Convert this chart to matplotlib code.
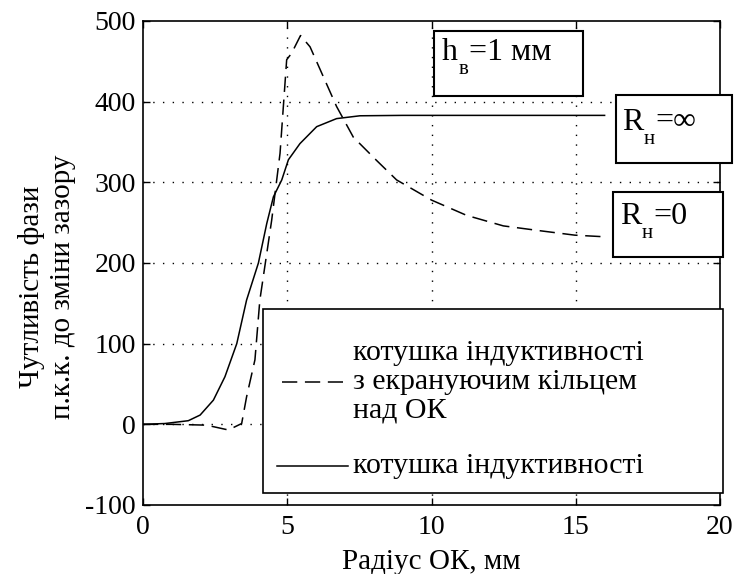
import numpy as np
import matplotlib
matplotlib.use("Agg")
import matplotlib.pyplot as plt
from matplotlib.patches import Rectangle
from matplotlib.lines import Line2D

plt.rcParams['font.family'] = ['Liberation Serif', 'DejaVu Serif']
plt.rcParams['axes.unicode_minus'] = False

# котушка індуктивності (суцільна лінія)
r_coil = [0, 0.76, 1.57, 1.98, 2.44, 2.84, 3.25, 3.59, 4.0, 4.29, 4.52, 4.81,
          5.04, 5.44, 6.02, 6.71, 7.52, 9.0, 12.0, 16.0]
s_coil = [0, 1, 4.5, 11.5, 30, 59, 100, 154, 200, 249, 282, 303,
          328, 348, 369, 379, 382.5, 383, 383, 383]

# котушка з екрануючим кільцем (штрихова лінія)
r_ring = [0, 1.0, 2.2, 2.96, 3.42, 3.59, 3.88, 4.05, 4.46, 4.75, 4.98, 5.15,
          5.46, 5.79, 6.25, 6.71, 7.29, 8.1, 8.79, 10.0, 11.22, 12.49, 13.76,
          14.97, 16.0]
s_ring = [0, 0, -1, -7, 1, 34, 80, 154, 253, 336, 452, 460,
          482, 468, 431, 394, 356, 327, 303, 278, 259, 246, 240,
          234.5, 232.5]

x_ticks = [0, 5, 10, 15, 20]
y_ticks = [-100, 0, 100, 200, 300, 400, 500]

W, H = 734, 574
fig = plt.figure(figsize=(W / 100, H / 100), dpi=100)
L, R, T, B = 143, 720, 21, 505
ax = fig.add_axes([L / W, 1 - B / H, (R - L) / W, (B - T) / H])


def fx(px):
    return (px - L) / (R - L)


def fy(py):
    return (B - py) / (B - T)


dash = (0, (10, 5))
ax.plot(r_coil, s_coil, color='black', lw=1.1, ls='-')
ax.plot(r_ring, s_ring, color='black', lw=1.1, ls=dash)

ax.set_xlim(0, 20)
ax.set_ylim(-100, 500)
ax.set_xticks(x_ticks)
ax.set_yticks(y_ticks)
ax.tick_params(direction='in', top=True, right=True, length=5, width=1,
               labelsize=20, pad=5)
ax.tick_params(axis='x', pad=7)
for sp in ax.spines.values():
    sp.set_linewidth(1.2)

# пунктирна сітка тільки всередині
for xv in x_ticks[1:-1]:
    ax.axvline(xv, color='black', lw=1, ls=(0, (1, 6)), zorder=0)
for yv in y_ticks[1:-1]:
    ax.axhline(yv, color='black', lw=1, ls=(0, (1, 6)), zorder=0)

ax.set_xlabel('Радіус ОК, мм', fontsize=21, labelpad=7)
ax.set_ylabel('Чутливість фази\nп.к.к. до зміни зазору', fontsize=21,
              linespacing=1.25)
ax.yaxis.set_label_coords(fx(76), fy(287))

# легенда
ax.add_patch(Rectangle((fx(263), fy(493)), fx(723) - fx(263), fy(309) - fy(493),
                       transform=ax.transAxes, facecolor='white',
                       edgecolor='black', lw=1.2, clip_on=False, zorder=5))
ax.add_line(Line2D([fx(282), fx(343)], [fy(382), fy(382)], transform=ax.transAxes,
                   color='black', lw=1.1, ls=dash, zorder=6))
ax.add_line(Line2D([fx(277), fx(348)], [fy(466), fy(466)], transform=ax.transAxes,
                   color='black', lw=1.1, zorder=6))
ax.text(fx(353), fy(382), 'котушка індуктивності\nз екрануючим кільцем\nнад ОК',
        transform=ax.transAxes, fontsize=21.5, va='center', ha='left',
        linespacing=1.13, zorder=6)
ax.text(fx(353), fy(466), 'котушка індуктивності', transform=ax.transAxes,
        fontsize=21.5, va='center', ha='left', zorder=6)

# підписи в рамках: літера, низько опущений індекс, решта тексту
boxes = [
    ((434, 31, 583, 96), (442, 52), 'h', 'в', '=1 мм'),
    ((616, 95, 732, 163), (622, 122), 'R', 'н', '=∞'),
    ((613, 192, 723, 257), (620, 216), 'R', 'н', '=0'),
]
for (x0, y0, x1, y1), (tx, ty), main, sub, rest in boxes:
    ax.add_patch(Rectangle((fx(x0), fy(y1)), fx(x1) - fx(x0), fy(y0) - fy(y1),
                           transform=ax.transAxes, facecolor='white',
                           edgecolor='black', lw=1.5, clip_on=False, zorder=5))
    t_main = ax.text(fx(tx), fy(ty), main, transform=ax.transAxes, fontsize=23,
                     va='center', ha='left', zorder=6)
    t_sub = ax.annotate(sub, xy=(1, 0), xycoords=t_main, xytext=(0.5, -2),
                        textcoords='offset points', fontsize=15,
                        va='center', ha='left', zorder=6)
    ax.annotate(rest, xy=(1, 0), xycoords=(t_sub, t_main), xytext=(0, 0),
                textcoords='offset points', fontsize=23,
                va='bottom', ha='left', zorder=6)

fig.savefig('out.png', dpi=100)
